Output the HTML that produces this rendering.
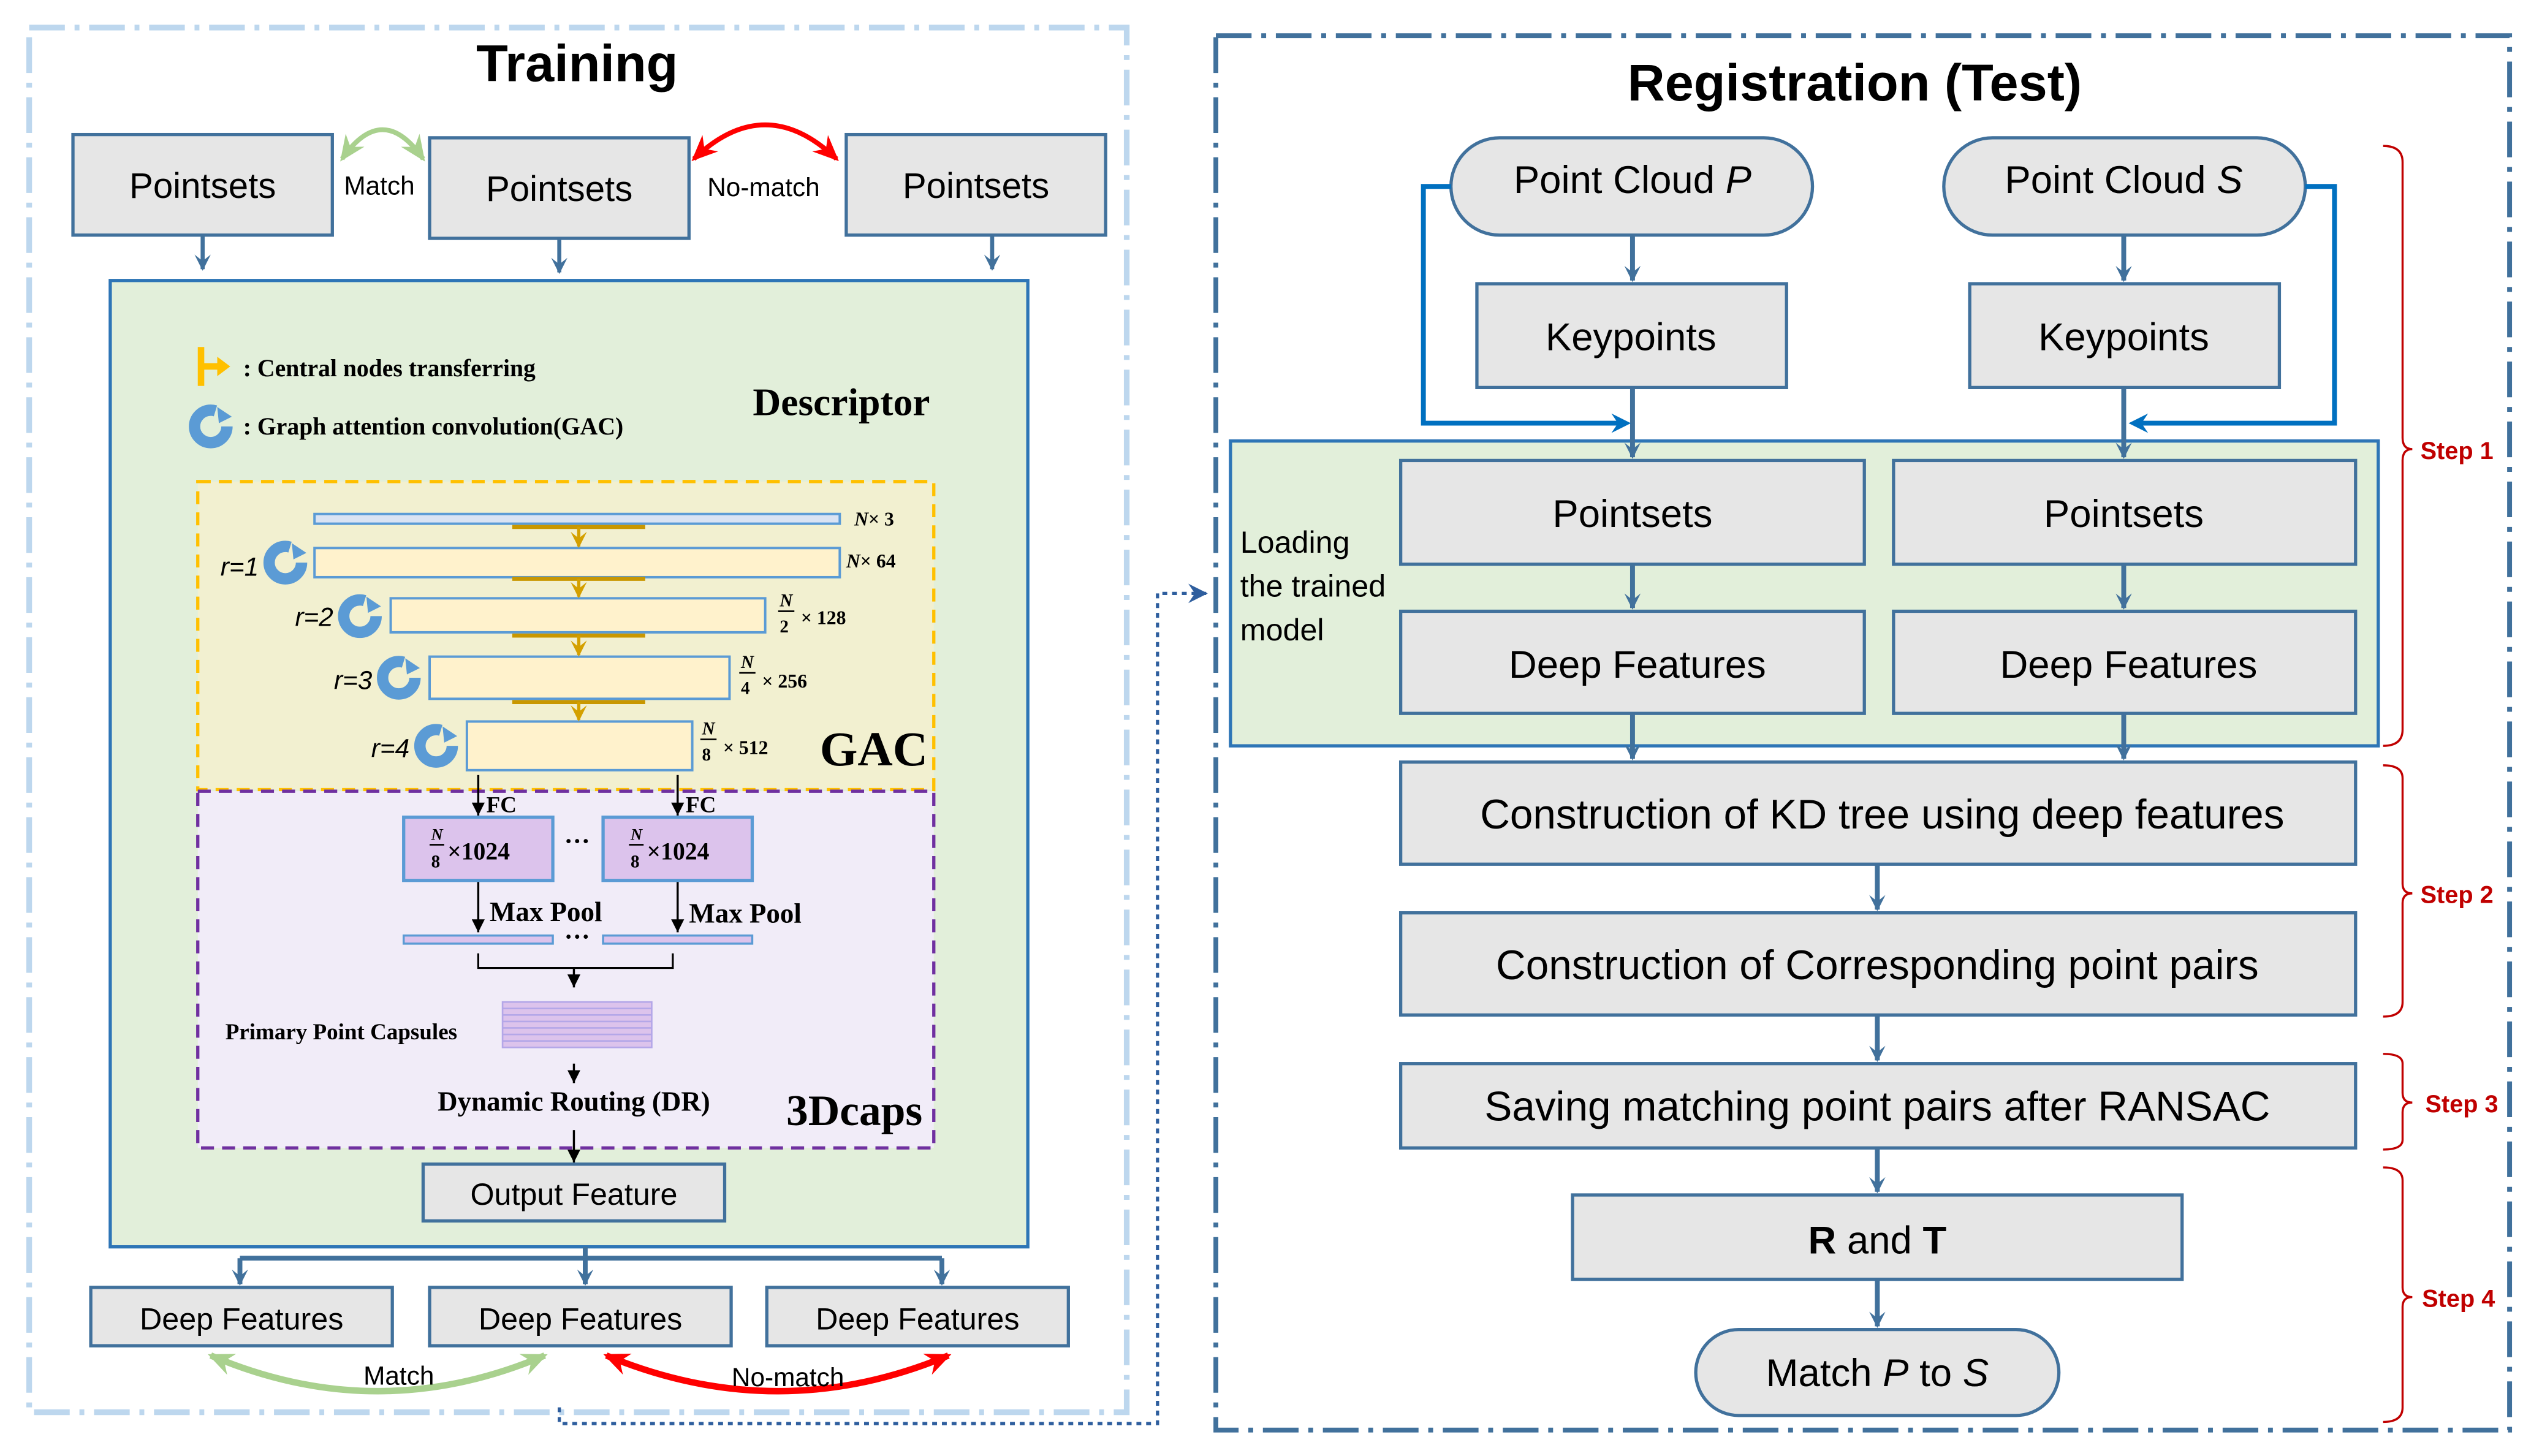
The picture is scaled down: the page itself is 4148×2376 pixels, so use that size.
<!DOCTYPE html>
<html><head><meta charset="utf-8"><style>
html,body{margin:0;padding:0;background:#fff}
svg{display:block}
.s{font-family:"Liberation Sans",sans-serif}
.r{font-family:"Liberation Serif",serif;font-weight:bold}
</style></head><body>
<svg width="4148" height="2376" viewBox="0 0 1568 898" preserveAspectRatio="none" xmlns="http://www.w3.org/2000/svg">
<defs>
<marker id="ab" markerWidth="10" markerHeight="10" refX="9" refY="5" orient="auto-start-reverse" markerUnits="userSpaceOnUse"><path d="M0,0 L10,5 L0,10 L4,5 Z" fill="#41719c"/></marker>
<marker id="ak" markerWidth="8" markerHeight="8" refX="8" refY="4" orient="auto-start-reverse" markerUnits="userSpaceOnUse"><path d="M0,0 L8,4 L0,8 Z" fill="#000"/></marker>
<marker id="ao" markerWidth="10" markerHeight="10" refX="9" refY="5" orient="auto-start-reverse" markerUnits="userSpaceOnUse"><path d="M0,0 L10,5 L0,10 L4,5 Z" fill="#d4a000"/></marker>
<marker id="ag" markerWidth="16" markerHeight="14" refX="14" refY="7" orient="auto-start-reverse" markerUnits="userSpaceOnUse"><path d="M0,0 L16,7 L0,14 L5,7 Z" fill="#a9d18e"/></marker>
<marker id="ar" markerWidth="16" markerHeight="14" refX="14" refY="7" orient="auto-start-reverse" markerUnits="userSpaceOnUse"><path d="M0,0 L16,7 L0,14 L5,7 Z" fill="#ff0000"/></marker>
<marker id="ad" markerWidth="12" markerHeight="12" refX="11" refY="6" orient="auto" markerUnits="userSpaceOnUse"><path d="M0,0 L12,6 L0,12 L4,6 Z" fill="#2e5e9e"/></marker>
<g id="gac"><circle r="10" fill="none" stroke="#5b9bd5" stroke-width="7" stroke-dasharray="50 13"/><path d="M4,-12 L13,-6 L5,-2 Z" fill="#5b9bd5"/></g>
</defs>

<rect x="18" y="17" width="677" height="854" fill="none" stroke="#bdd7ee" stroke-width="3.5" stroke-dasharray="22 6 3 6"/>
<text x="356" y="50" text-anchor="middle" class="s" font-size="32" font-weight="bold">Training</text>

<g class="s" font-size="22" text-anchor="middle" fill="#000">
<rect x="45" y="83" width="160" height="62" fill="#e6e6e6" stroke="#41719c" stroke-width="2"/>
<text x="125" y="122">Pointsets</text>
<rect x="265" y="85" width="160" height="62" fill="#e6e6e6" stroke="#41719c" stroke-width="2"/>
<text x="345" y="124">Pointsets</text>
<rect x="522" y="83" width="160" height="62" fill="#e6e6e6" stroke="#41719c" stroke-width="2"/>
<text x="602" y="122">Pointsets</text>
</g>
<text x="234" y="120" text-anchor="middle" class="s" font-size="16">Match</text>
<text x="471" y="121" text-anchor="middle" class="s" font-size="16">No-match</text>
<path d="M211,98 Q236,62 261,98" fill="none" stroke="#a9d18e" stroke-width="3" marker-start="url(#ag)" marker-end="url(#ag)"/>
<path d="M428,98 Q472,56 516,98" fill="none" stroke="#ff0000" stroke-width="3" marker-start="url(#ar)" marker-end="url(#ar)"/>
<g stroke="#41719c" stroke-width="2.5" marker-end="url(#ab)">
<line x1="125" y1="145" x2="125" y2="166"/><line x1="345" y1="147" x2="345" y2="168"/><line x1="612" y1="145" x2="612" y2="166"/>
</g>

<rect x="68" y="173" width="566" height="596" fill="#e2efda" stroke="#2e75b6" stroke-width="2"/>
<path d="M124,214 L124,238 M124,226 L136,226" stroke="#ffc000" stroke-width="4" fill="none"/><path d="M134,220 L142,226 L134,232 Z" fill="#ffc000"/>
<text x="150" y="232" class="r" font-size="15">: Central nodes transferring</text>
<use href="#gac" x="130" y="263"/>
<text x="150" y="268" class="r" font-size="15">: Graph attention convolution(GAC)</text>
<text x="519" y="256" text-anchor="middle" class="r" font-size="24">Descriptor</text>

<rect x="122" y="297" width="454" height="190" fill="#f2f0d0" stroke="#ffc000" stroke-width="2" stroke-dasharray="8 5"/>
<rect x="194" y="317" width="324" height="6" fill="#dae3f3" stroke="#5b9bd5" stroke-width="1.5"/>
<rect x="194" y="338" width="324" height="18" fill="#fff2cc" stroke="#5b9bd5" stroke-width="1.5"/>
<rect x="241" y="369" width="231" height="21" fill="#fff2cc" stroke="#5b9bd5" stroke-width="1.5"/>
<rect x="265" y="405" width="185" height="26" fill="#fff2cc" stroke="#5b9bd5" stroke-width="1.5"/>
<rect x="288" y="445" width="139" height="30" fill="#fff2cc" stroke="#5b9bd5" stroke-width="1.5"/>
<g stroke="#c99700" stroke-width="2.5" fill="none">
<line x1="316" y1="325" x2="398" y2="325"/><line x1="316" y1="357" x2="398" y2="357"/><line x1="316" y1="392" x2="398" y2="392"/><line x1="316" y1="433" x2="398" y2="433"/>
</g>
<g stroke="#d4a000" stroke-width="2" marker-end="url(#ao)">
<line x1="357" y1="325" x2="357" y2="337"/><line x1="357" y1="357" x2="357" y2="368"/><line x1="357" y1="392" x2="357" y2="404"/><line x1="357" y1="433" x2="357" y2="444"/>
</g>
<g class="s" font-style="italic" font-size="16">
<text x="136" y="355">r=1</text><text x="182" y="386">r=2</text><text x="206" y="425">r=3</text><text x="229" y="467">r=4</text>
</g>
<use href="#gac" x="176" y="347"/><use href="#gac" x="222" y="380"/><use href="#gac" x="246" y="418"/><use href="#gac" x="269" y="460"/>
<g class="r" font-weight="normal" font-size="12">
<text x="527" y="324"><tspan font-style="italic">N</tspan>× 3</text>
<text x="522" y="350"><tspan font-style="italic">N</tspan>× 64</text>
<text x="481" y="374" font-size="11" font-style="italic">N</text><line x1="480" y1="377" x2="490" y2="377" stroke="#000"/><text x="481" y="390" font-size="11">2</text><text x="494" y="385">× 128</text>
<text x="457" y="412" font-size="11" font-style="italic">N</text><line x1="456" y1="415" x2="466" y2="415" stroke="#000"/><text x="457" y="428" font-size="11">4</text><text x="470" y="424">× 256</text>
<text x="433" y="453" font-size="11" font-style="italic">N</text><line x1="432" y1="456" x2="442" y2="456" stroke="#000"/><text x="433" y="469" font-size="11">8</text><text x="446" y="465">× 512</text>
</g>
<text x="539" y="472" text-anchor="middle" class="r" font-size="30">GAC</text>

<rect x="122" y="488" width="454" height="220" fill="#f1ecf8" stroke="#7030a0" stroke-width="2" stroke-dasharray="8 5"/>
<g stroke="#000" stroke-width="1.3" marker-end="url(#ak)">
<line x1="295" y1="478" x2="295" y2="503"/><line x1="418" y1="478" x2="418" y2="503"/>
<line x1="295" y1="543" x2="295" y2="575"/><line x1="418" y1="543" x2="418" y2="575"/>
<line x1="354" y1="597" x2="354" y2="609"/><line x1="354" y1="656" x2="354" y2="668"/><line x1="354" y1="697" x2="354" y2="717"/>
</g>
<text x="300" y="501" class="r" font-size="14">FC</text><text x="423" y="501" class="r" font-size="14">FC</text>
<rect x="249" y="504" width="92" height="39" fill="#dcc3ec" stroke="#5b9bd5" stroke-width="2"/>
<rect x="372" y="504" width="92" height="39" fill="#dcc3ec" stroke="#5b9bd5" stroke-width="2"/>
<g class="r" font-size="15">
<text x="266" y="518" font-size="10" font-style="italic">N</text><line x1="265" y1="521" x2="274" y2="521" stroke="#000"/><text x="266" y="535" font-size="11">8</text><text x="276" y="530">×1024</text>
<text x="389" y="518" font-size="10" font-style="italic">N</text><line x1="388" y1="521" x2="397" y2="521" stroke="#000"/><text x="389" y="535" font-size="11">8</text><text x="399" y="530">×1024</text>
</g>
<text x="356" y="524" text-anchor="middle" class="r" font-size="16">···</text>
<text x="302" y="568" class="r" font-size="17">Max Pool</text><text x="425" y="569" class="r" font-size="17">Max Pool</text>
<rect x="249" y="577" width="92" height="5" fill="#dcc3ec" stroke="#5b9bd5" stroke-width="1.3"/>
<rect x="372" y="577" width="92" height="5" fill="#dcc3ec" stroke="#5b9bd5" stroke-width="1.3"/>
<text x="356" y="583" text-anchor="middle" class="r" font-size="16">···</text>
<path d="M295,588 L295,597 L415,597 L415,588" fill="none" stroke="#000" stroke-width="1.2"/>
<text x="139" y="641" class="r" font-size="14">Primary  Point Capsules</text>
<rect x="310" y="618" width="92" height="28" fill="#dcc3ec" stroke="#b4a7e8" stroke-width="1"/>
<g stroke="#b4a7e8" stroke-width="1"><line x1="310" y1="622" x2="402" y2="622"/><line x1="310" y1="626" x2="402" y2="626"/><line x1="310" y1="630" x2="402" y2="630"/><line x1="310" y1="634" x2="402" y2="634"/><line x1="310" y1="638" x2="402" y2="638"/><line x1="310" y1="642" x2="402" y2="642"/></g>
<text x="354" y="685" text-anchor="middle" class="r" font-size="17">Dynamic Routing (DR)</text>
<text x="527" y="694" text-anchor="middle" class="r" font-size="27">3Dcaps</text>
<rect x="261" y="718" width="186" height="35" fill="#e6e6e6" stroke="#41719c" stroke-width="2"/>
<text x="354" y="743" text-anchor="middle" class="s" font-size="19">Output Feature</text>

<path d="M148,776 L581,776 M361,769 L361,776" stroke="#41719c" stroke-width="3" fill="none"/>
<g stroke="#41719c" stroke-width="3" marker-end="url(#ab)"><line x1="148" y1="776" x2="148" y2="792"/><line x1="361" y1="776" x2="361" y2="792"/><line x1="581" y1="776" x2="581" y2="792"/></g>
<g class="s" font-size="19" text-anchor="middle">
<rect x="56" y="794" width="186" height="36" fill="#e6e6e6" stroke="#41719c" stroke-width="2"/><text x="149" y="820">Deep Features</text>
<rect x="265" y="794" width="186" height="36" fill="#e6e6e6" stroke="#41719c" stroke-width="2"/><text x="358" y="820">Deep Features</text>
<rect x="473" y="794" width="186" height="36" fill="#e6e6e6" stroke="#41719c" stroke-width="2"/><text x="566" y="820">Deep Features</text>
</g>
<path d="M130,836 Q233,880 336,836" fill="none" stroke="#a9d18e" stroke-width="4" marker-start="url(#ag)" marker-end="url(#ag)"/>
<path d="M374,836 Q480,880 585,836" fill="none" stroke="#ff0000" stroke-width="4" marker-start="url(#ar)" marker-end="url(#ar)"/>
<text x="246" y="854" text-anchor="middle" class="s" font-size="16">Match</text>
<text x="486" y="855" text-anchor="middle" class="s" font-size="16">No-match</text>

<path d="M345,868 L345,878 L714,878 L714,366 L744,366" fill="none" stroke="#2e5e9e" stroke-width="2" stroke-dasharray="3 3" marker-end="url(#ad)"/>

<rect x="750" y="22" width="798" height="860" fill="none" stroke="#41719c" stroke-width="3" stroke-dasharray="22 6 3 6"/>
<text x="1144" y="62" text-anchor="middle" class="s" font-size="32" font-weight="bold">Registration (Test)</text>

<rect x="759" y="272" width="708" height="188" fill="#e2efda" stroke="#2e75b6" stroke-width="2"/>
<g class="s" font-size="19"><text x="765" y="341">Loading</text><text x="765" y="368">the trained</text><text x="765" y="395">model</text></g>

<g class="s" font-size="24" text-anchor="middle">
<rect x="895" y="85" width="223" height="60" rx="30" fill="#e6e6e6" stroke="#41719c" stroke-width="2"/>
<text x="1007" y="119">Point Cloud <tspan font-style="italic">P</tspan></text>
<rect x="1199" y="85" width="223" height="60" rx="30" fill="#e6e6e6" stroke="#41719c" stroke-width="2"/>
<text x="1310" y="119">Point Cloud <tspan font-style="italic">S</tspan></text>
<rect x="911" y="175" width="191" height="64" fill="#e6e6e6" stroke="#41719c" stroke-width="2"/><text x="1006" y="216">Keypoints</text>
<rect x="1215" y="175" width="191" height="64" fill="#e6e6e6" stroke="#41719c" stroke-width="2"/><text x="1310" y="216">Keypoints</text>
<rect x="864" y="284" width="286" height="64" fill="#e6e6e6" stroke="#41719c" stroke-width="2"/><text x="1007" y="325">Pointsets</text>
<rect x="1168" y="284" width="285" height="64" fill="#e6e6e6" stroke="#41719c" stroke-width="2"/><text x="1310" y="325">Pointsets</text>
<rect x="864" y="377" width="286" height="63" fill="#e6e6e6" stroke="#41719c" stroke-width="2"/><text x="1010" y="418">Deep Features</text>
<rect x="1168" y="377" width="285" height="63" fill="#e6e6e6" stroke="#41719c" stroke-width="2"/><text x="1313" y="418">Deep Features</text>
<rect x="864" y="470" width="589" height="63" fill="#e6e6e6" stroke="#41719c" stroke-width="2"/><text x="1161" y="511" font-size="25.5">Construction of KD tree using deep features</text>
<rect x="864" y="563" width="589" height="63" fill="#e6e6e6" stroke="#41719c" stroke-width="2"/><text x="1158" y="604" font-size="25.5">Construction of Corresponding point pairs</text>
<rect x="864" y="656" width="589" height="52" fill="#e6e6e6" stroke="#41719c" stroke-width="2"/><text x="1158" y="691" font-size="25.5">Saving matching point pairs after RANSAC</text>
<rect x="970" y="737" width="376" height="52" fill="#e6e6e6" stroke="#41719c" stroke-width="2"/><text x="1158" y="773"><tspan font-weight="bold">R</tspan> and <tspan font-weight="bold">T</tspan></text>
<rect x="1046" y="820" width="224" height="53" rx="26.5" fill="#e6e6e6" stroke="#41719c" stroke-width="2"/><text x="1158" y="855">Match <tspan font-style="italic">P</tspan> to <tspan font-style="italic">S</tspan></text>
</g>
<g stroke="#41719c" stroke-width="3" marker-end="url(#ab)">
<line x1="1007" y1="145" x2="1007" y2="173"/><line x1="1310" y1="145" x2="1310" y2="173"/>
<line x1="1007" y1="239" x2="1007" y2="282"/><line x1="1310" y1="239" x2="1310" y2="282"/>
<line x1="1007" y1="348" x2="1007" y2="375"/><line x1="1310" y1="348" x2="1310" y2="375"/>
<line x1="1007" y1="440" x2="1007" y2="468"/><line x1="1310" y1="440" x2="1310" y2="468"/>
<line x1="1158" y1="533" x2="1158" y2="561"/><line x1="1158" y1="626" x2="1158" y2="654"/>
<line x1="1158" y1="708" x2="1158" y2="735"/><line x1="1158" y1="789" x2="1158" y2="818"/>
</g>
<path d="M895,115 L878,115 L878,261 L1003,261" fill="none" stroke="#0070c0" stroke-width="3"/>
<path d="M994,255 L1006,261 L994,267 L998,261 Z" fill="#0070c0"/>
<path d="M1422,115 L1440,115 L1440,261 L1316,261" fill="none" stroke="#0070c0" stroke-width="3"/>
<path d="M1325,255 L1313,261 L1325,267 L1321,261 Z" fill="#0070c0"/>

<g fill="none" stroke="#c00000" stroke-width="1.3">
<path d="M1470,90 Q1482,90 1482,100 L1482,270 Q1482,277 1488,277 Q1482,277 1482,284 L1482,450 Q1482,460 1470,460"/>
<path d="M1470,472 Q1482,472 1482,480 L1482,545 Q1482,551 1488,551 Q1482,551 1482,557 L1482,618 Q1482,627 1470,627"/>
<path d="M1470,650 Q1482,650 1482,656 L1482,674 Q1482,680 1488,680 Q1482,680 1482,686 L1482,703 Q1482,709 1470,709"/>
<path d="M1470,720 Q1482,720 1482,728 L1482,794 Q1482,800 1488,800 Q1482,800 1482,806 L1482,868 Q1482,877 1470,877"/>
</g>
<g class="s" font-size="15" font-weight="bold" fill="#c00000">
<text x="1493" y="283">Step 1</text><text x="1493" y="557">Step 2</text><text x="1496" y="686">Step 3</text><text x="1494" y="806">Step 4</text>
</g>
</svg>
</body></html>
